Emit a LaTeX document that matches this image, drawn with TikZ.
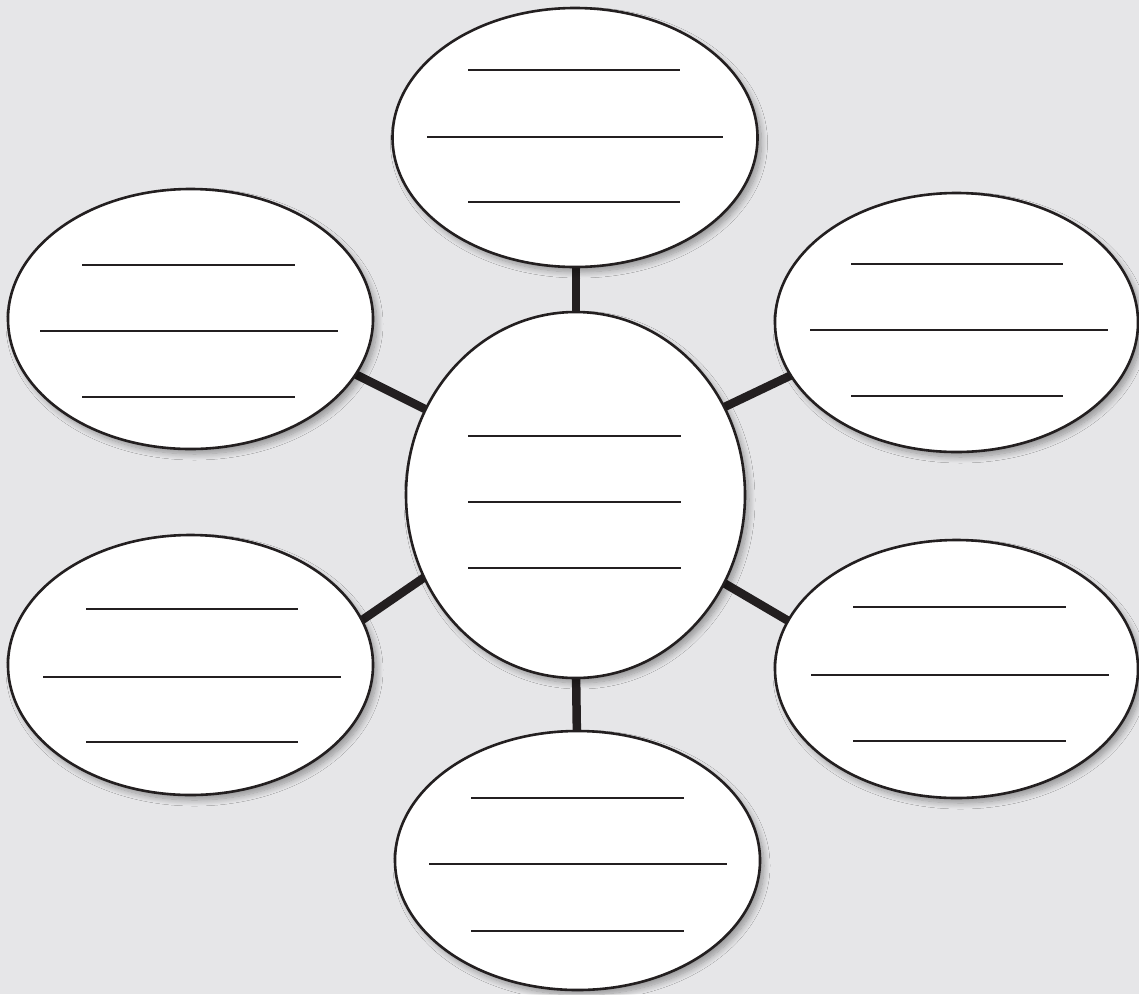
\documentclass[tikz,border=0pt]{standalone}
\usetikzlibrary{shapes.geometric,shadows.blur}
\definecolor{bg}{HTML}{E6E6E8}
\definecolor{ink}{HTML}{231F20}
\tikzset{
  bubble/.style={ellipse, draw=ink, fill=white, line width=2.6pt, inner sep=0pt,
    blur shadow={shadow xshift=4pt, shadow yshift=-5pt, shadow blur steps=10, shadow blur radius=6pt, shadow opacity=35}},
  spoke/.style={draw=ink, line width=8.5pt},
  rule/.style={draw=ink, line width=2.2pt}
}
\begin{document}
\begin{tikzpicture}[x=1pt,y=-1pt]
\fill[bg] (0,0) rectangle (1139,994);
\useasboundingbox (0,0) rectangle (1139,994);
% connector end points
\coordinate (tA) at (576,258); \coordinate (tB) at (576,322);
\coordinate (bA) at (576,670); \coordinate (bB) at (577,742);
\coordinate (ltA) at (347,370); \coordinate (ltB) at (437,415);
\coordinate (rtA) at (714,412); \coordinate (rtB) at (800,371);
\coordinate (lbA) at (352,627); \coordinate (lbB) at (435,570);
\coordinate (rbA) at (717,579); \coordinate (rbB) at (797,626);
\draw[spoke] (tA) -- (tB);
\draw[spoke] (bA) -- (bB);
\draw[spoke] (ltA) -- (ltB);
\draw[spoke] (rtA) -- (rtB);
\draw[spoke] (lbA) -- (lbB);
\draw[spoke] (rbA) -- (rbB);
% bubbles
\node[bubble, minimum width=365pt, minimum height=259pt] (T) at (575,137.5) {};
\node[bubble, minimum width=365pt, minimum height=260pt] (LT) at (190.5,319) {};
\node[bubble, minimum width=363pt, minimum height=259pt] (RT) at (956.5,322.5) {};
\node[bubble, minimum width=339pt, minimum height=366pt] (C) at (575.5,495) {};
\node[bubble, minimum width=365pt, minimum height=260pt] (LB) at (190.5,665) {};
\node[bubble, minimum width=363pt, minimum height=258pt] (RB) at (956.5,669) {};
\node[bubble, minimum width=365pt, minimum height=259pt] (B) at (577.5,860.5) {};
% writing lines
\draw[rule] (468,70) -- (680,70);
\draw[rule] (427,137) -- (723,137);
\draw[rule] (468,202) -- (680,202);
\draw[rule] (82,265) -- (295,265);
\draw[rule] (40,331) -- (338,331);
\draw[rule] (82,397) -- (295,397);
\draw[rule] (851,264) -- (1063,264);
\draw[rule] (810,330) -- (1108,330);
\draw[rule] (851,396) -- (1063,396);
\draw[rule] (468,436) -- (681,436);
\draw[rule] (468,502) -- (681,502);
\draw[rule] (468,568) -- (681,568);
\draw[rule] (86,609) -- (298,609);
\draw[rule] (43,677) -- (341,677);
\draw[rule] (86,742) -- (298,742);
\draw[rule] (853,607) -- (1066,607);
\draw[rule] (811,675) -- (1109,675);
\draw[rule] (853,741) -- (1066,741);
\draw[rule] (471,798) -- (684,798);
\draw[rule] (429,864) -- (727,864);
\draw[rule] (471,931) -- (684,931);
\end{tikzpicture}
\end{document}
